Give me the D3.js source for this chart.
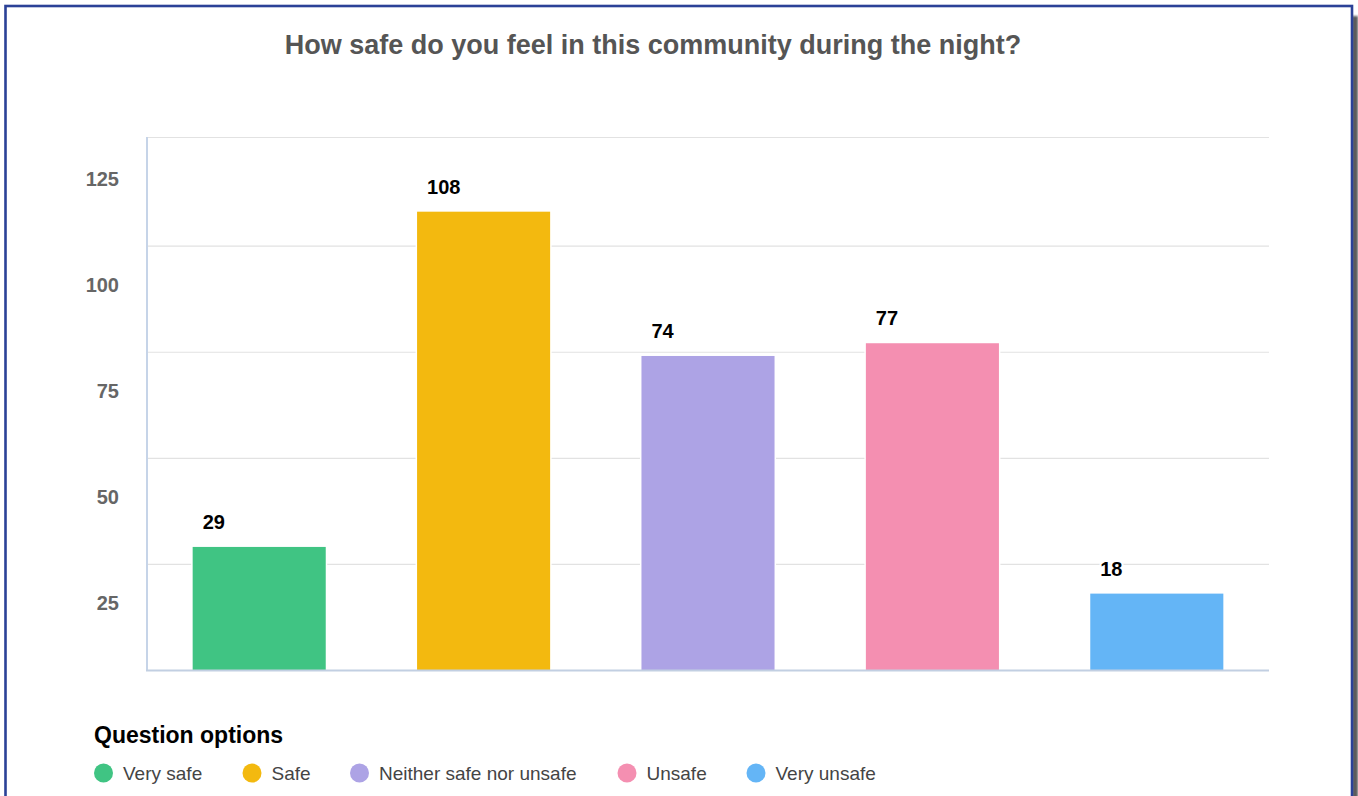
<!DOCTYPE html>
<html>
<head>
<meta charset="utf-8">
<script src="https://cdn.jsdelivr.net/npm/d3@7"></script>
<style>
  html, body { margin: 0; padding: 0; background: #fff; overflow: hidden; }
  svg { display: block; font-family: "Liberation Sans", Arial, Helvetica, sans-serif; }
</style>
</head>
<body>
<svg id="chart" width="1358" height="796"></svg>
<script>
// Survey answers
const categories = ["Very safe", "Safe", "Neither safe nor unsafe", "Unsafe", "Very unsafe"];
const counts = [29, 108, 74, 77, 18];
const colors = ["#40c483", "#f3b90f", "#ada3e5", "#f48fb1", "#64b5f6"];
const tickValues = [25, 50, 75, 100, 125];
const yMax = 125.6;

const title = "How safe do you feel in this community during the night?";
const legendTitle = "Question options";

const svg = d3.select("#chart");

// panel shadow and frame
const defs = svg.append("defs");
const blur = defs.append("filter").attr("id", "soft").attr("x", "-50%").attr("width", "200%");
blur.append("feGaussianBlur").attr("stdDeviation", 1.2);
svg.append("rect")
  .attr("x", 1352).attr("y", 16).attr("width", 6).attr("height", 820)
  .attr("fill", "#5b5b5b").attr("filter", "url(#soft)");
svg.append("rect")
  .attr("x", 5.5).attr("y", 6).attr("width", 1346.5).attr("height", 860)
  .attr("fill", "#fff").attr("stroke", "#2b4197").attr("stroke-width", 2.6);

// title
svg.append("text")
  .attr("x", 653).attr("y", 54)
  .attr("text-anchor", "middle")
  .attr("font-size", 27).attr("font-weight", "bold").attr("fill", "#555")
  .text(title);

const plot = { left: 147, right: 1269, top: 137, bottom: 670 };

const x = d3.scaleBand()
  .domain(categories)
  .range([plot.left, plot.right])
  .paddingInner(0.407)
  .paddingOuter(0.2035);

const y = d3.scaleLinear()
  .domain([0, yMax])
  .range([plot.bottom, plot.top]);

// horizontal grid: the top line closes the plot area
const gridValues = tickValues.filter(v => v < 125).concat([yMax]);
const grid = svg.append("g")
  .attr("transform", `translate(${plot.left},0)`)
  .call(d3.axisLeft(y).tickValues(gridValues).tickSize(-(plot.right - plot.left)).tickFormat(""));
grid.select(".domain").remove();
grid.selectAll("line").attr("stroke", "#e2e2e2").attr("stroke-width", 1.2);

// y tick labels (drawn a little below their gridlines)
const yAxis = svg.append("g")
  .attr("transform", `translate(${plot.left},0)`)
  .call(d3.axisLeft(y).tickValues(tickValues).tickSize(0).tickPadding(28));
yAxis.select(".domain").remove();
yAxis.selectAll("text")
  .attr("font-family", "Liberation Sans, Arial, sans-serif")
  .attr("font-size", 20).attr("font-weight", "bold").attr("fill", "#666")
  .attr("dy", 46);

// axis line
svg.append("line")
  .attr("x1", plot.left).attr("x2", plot.left)
  .attr("y1", plot.top).attr("y2", plot.bottom)
  .attr("stroke", "#c6d4e8").attr("stroke-width", 2);

// bars with a thin white outline around them
const bars = svg.append("g").selectAll("g")
  .data(counts)
  .join("g");
bars.append("rect")
  .attr("x", (d, i) => x(categories[i]) - 1.5)
  .attr("y", d => y(d) - 1.5)
  .attr("width", x.bandwidth() + 3)
  .attr("height", d => y(0) - y(d) + 1.5)
  .attr("fill", "#fff");
bars.append("rect")
  .attr("x", (d, i) => x(categories[i]))
  .attr("y", d => y(d))
  .attr("width", x.bandwidth())
  .attr("height", d => y(0) - y(d))
  .attr("fill", (d, i) => colors[i]);

svg.append("line")
  .attr("x1", plot.left - 1).attr("x2", plot.right)
  .attr("y1", plot.bottom + 0.5).attr("y2", plot.bottom + 0.5)
  .attr("stroke", "#c2cfe2").attr("stroke-width", 2);

// value labels
svg.append("g").selectAll("text")
  .data(counts)
  .join("text")
  .attr("x", (d, i) => x(categories[i]) + 10)
  .attr("y", d => y(d) - 18)
  .attr("font-size", 20).attr("font-weight", "bold").attr("fill", "#000")
  .attr("stroke", "#fff").attr("stroke-width", 4).attr("paint-order", "stroke")
  .text(d => d);

// legend
svg.append("text")
  .attr("x", 94).attr("y", 743)
  .attr("font-size", 23).attr("font-weight", "bold").attr("fill", "#000")
  .text(legendTitle);

const legendX = [103.5, 252, 359.5, 627, 756];
const legend = svg.append("g").selectAll("g")
  .data(categories)
  .join("g")
  .attr("transform", (d, i) => `translate(${legendX[i]},773)`);
legend.append("circle").attr("r", 9.5).attr("fill", (d, i) => colors[i]);
legend.append("text")
  .attr("x", 19.5).attr("y", 7)
  .attr("font-size", 19).attr("fill", "#444")
  .text(d => d);
</script>
</body>
</html>
